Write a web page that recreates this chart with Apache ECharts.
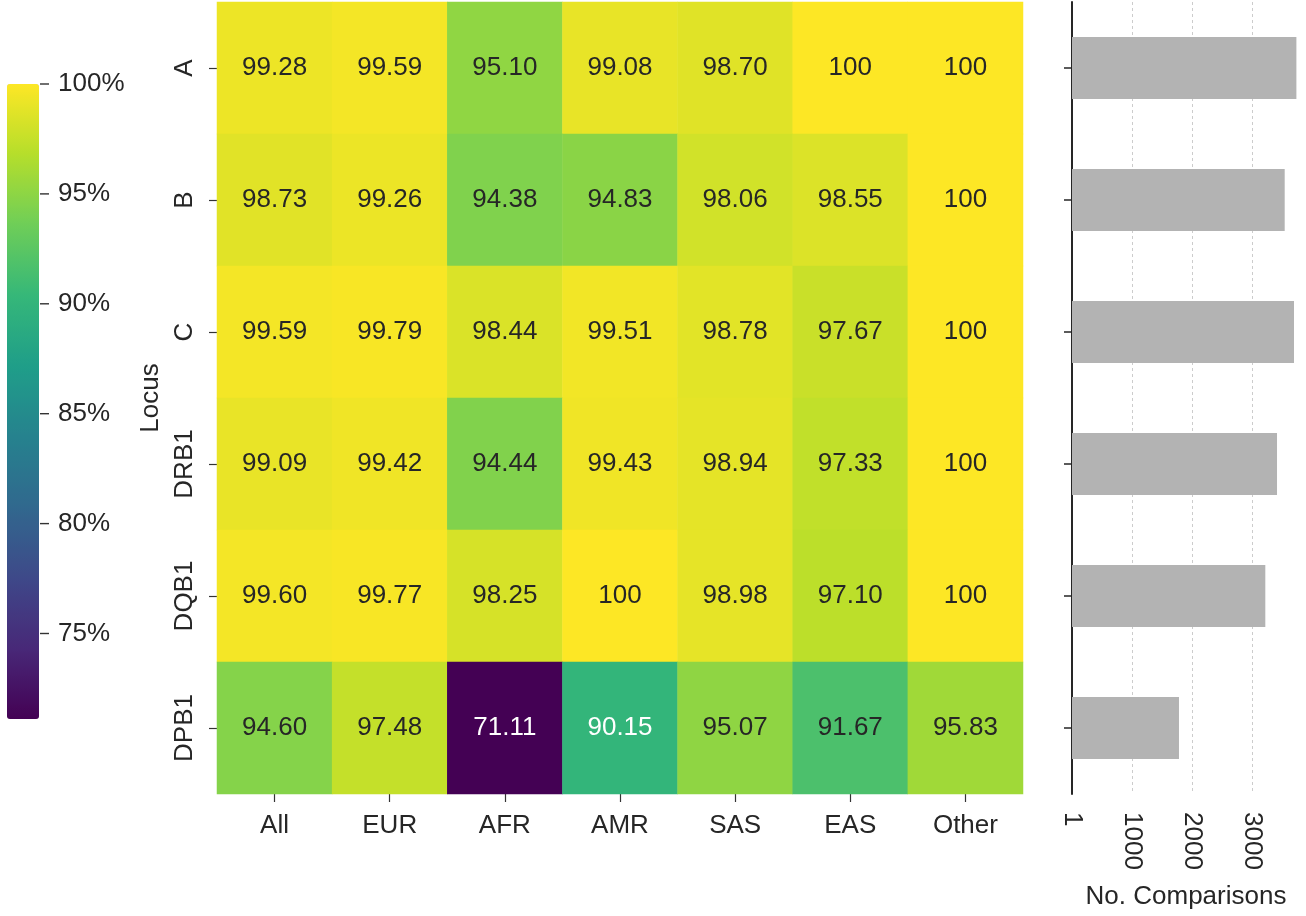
<!DOCTYPE html>
<html>
<head>
<meta charset="utf-8">
<title>Locus concordance by population</title>
<script src="https://cdn.jsdelivr.net/npm/echarts@6/dist/echarts.min.js"></script>
<style>
  html, body { margin: 0; padding: 0; background: #ffffff; }
  #chart { width: 1306px; height: 916px; }
</style>
</head>
<body>
<div id="chart"></div>
<script>
// Population groups (columns) and HLA loci (rows)
const populations = ['All', 'EUR', 'AFR', 'AMR', 'SAS', 'EAS', 'Other'];
const loci = ['A', 'B', 'C', 'DRB1', 'DQB1', 'DPB1'];

// Concordance (%) per locus, one array per row, in population order
const rowA    = [99.28, 99.59, 95.10, 99.08, 98.70, 100, 100];
const rowB    = [98.73, 99.26, 94.38, 94.83, 98.06, 98.55, 100];
const rowC    = [99.59, 99.79, 98.44, 99.51, 98.78, 97.67, 100];
const rowDRB1 = [99.09, 99.42, 94.44, 99.43, 98.94, 97.33, 100];
const rowDQB1 = [99.60, 99.77, 98.25, 100, 98.98, 97.10, 100];
const rowDPB1 = [94.60, 97.48, 71.11, 90.15, 95.07, 91.67, 95.83];

// Number of comparisons per locus
const comparisons = [3740, 3545, 3700, 3417, 3222, 1783];

// Tick labels
const colorbarTicks = [75, 80, 85, 90, 95, 100];
const comparisonTicks = [1, 1000, 2000, 3000];

const rows = [rowA, rowB, rowC, rowDRB1, rowDQB1, rowDPB1];
const heatData = [];
rows.forEach((row, yi) => row.forEach((v, xi) => heatData.push([xi, yi, v])));

const allValues = rows.flat();
const vMin = Math.min(...allValues);
const vMax = Math.max(...allValues);

const viridis = ['#440154', '#482878', '#3e4989', '#31688e', '#26828e',
                 '#1f9e89', '#35b779', '#6ece58', '#b5de2b', '#fde725'];

const FONT = "'Liberation Sans', Arial, Helvetica, sans-serif";
const TEXT = '#262626';

const chart = echarts.init(document.getElementById('chart'), null, { renderer: 'canvas' });

chart.setOption({
  backgroundColor: '#ffffff',
  animation: false,
  textStyle: { fontFamily: FONT, color: TEXT },
  grid: [
    { left: 217, top: 2, width: 806, height: 792 },   // heatmap
    { left: 1072, top: 2, width: 228, height: 792 },  // comparisons bars
    { left: 7, top: 84, width: 32, height: 635 }      // colour bar scale
  ],
  visualMap: {
    type: 'continuous',
    seriesIndex: 0,
    min: vMin,
    max: vMax,
    calculable: false,
    realtime: false,
    left: 7,
    top: 84,
    padding: 0,
    itemWidth: 32,
    itemHeight: 635,
    text: null,
    inRange: { color: viridis }
  },
  xAxis: [
    {
      gridIndex: 0,
      type: 'category',
      data: populations,
      axisLine: { show: false },
      axisTick: { show: true, alignWithLabel: true, length: 8, lineStyle: { color: '#333', width: 1.2 } },
      axisLabel: { color: TEXT, fontSize: 26, fontFamily: FONT, margin: 19 },
      splitLine: { show: false }
    },
    {
      gridIndex: 1,
      type: 'value',
      min: 0,
      max: 3800,
      interval: 1000,
      name: 'No. Comparisons',
      nameLocation: 'middle',
      nameGap: 90,
      nameTextStyle: { color: TEXT, fontSize: 26, fontFamily: FONT },
      axisLine: { show: false },
      axisTick: { show: false },
      axisLabel: {
        customValues: comparisonTicks,
        formatter: v => String(v),
        rotate: -90,
        color: TEXT, fontSize: 26, fontFamily: FONT, margin: 18
      },
      splitLine: {
        show: true,
        showMinLine: false,
        showMaxLine: false,
        lineStyle: { color: '#cccccc', type: [3, 3], width: 1 }
      }
    },
    {
      gridIndex: 2,
      type: 'value',
      min: 0,
      max: 1,
      show: false
    }
  ],
  yAxis: [
    {
      gridIndex: 0,
      type: 'category',
      data: loci,
      inverse: true,
      name: 'Locus',
      nameLocation: 'middle',
      nameGap: 51,
      nameRotate: 90,
      nameTextStyle: { color: TEXT, fontSize: 26, fontFamily: FONT },
      axisLine: { show: false },
      axisTick: { show: true, alignWithLabel: true, length: 8, lineStyle: { color: '#333', width: 1.2 } },
      axisLabel: { rotate: 90, color: TEXT, fontSize: 26, fontFamily: FONT, margin: 19 },
      splitLine: { show: false }
    },
    {
      gridIndex: 1,
      type: 'category',
      data: loci,
      inverse: true,
      axisLine: { show: true, lineStyle: { color: '#262626', width: 2 } },
      axisTick: { show: true, alignWithLabel: true, length: 8, lineStyle: { color: '#262626', width: 1.5 } },
      axisLabel: { show: false },
      splitLine: { show: false }
    },
    {
      gridIndex: 2,
      type: 'value',
      position: 'right',
      min: vMin,
      max: vMax,
      axisLine: { show: false },
      axisTick: { show: false },
      axisLabel: {
        customValues: colorbarTicks,
        // each label carries its own short tick mark in front of the text
        formatter: v => '{tick|}{gap|}' + v + '%',
        rich: {
          tick: { width: 9, height: 1.4, backgroundColor: '#333333', verticalAlign: 'middle' },
          gap: { width: 9, height: 1 }
        },
        color: TEXT, fontSize: 26, fontFamily: FONT, margin: 1
      },
      splitLine: { show: false }
    }
  ],
  series: [
    {
      name: 'Concordance',
      type: 'heatmap',
      xAxisIndex: 0,
      yAxisIndex: 0,
      data: heatData.map(d => ({
        value: d,
        // labels on dark cells are drawn in white for contrast
        label: { color: d[2] < 91 ? '#ffffff' : TEXT }
      })),
      label: {
        show: true,
        fontSize: 26,
        fontFamily: FONT,
        formatter: p => {
          const v = p.value[2];
          return v === 100 ? '100' : v.toFixed(2);
        }
      },
      itemStyle: { borderWidth: 0 },
      emphasis: { disabled: true }
    },
    {
      name: 'No. Comparisons',
      type: 'bar',
      xAxisIndex: 1,
      yAxisIndex: 1,
      data: comparisons,
      barWidth: '47%',
      itemStyle: { color: '#b3b3b3' },
      emphasis: { disabled: true }
    },
    {
      // carries the colour-bar scale so its axis gets laid out
      name: 'colorbar-scale',
      type: 'scatter',
      xAxisIndex: 2,
      yAxisIndex: 2,
      data: [],
      silent: true
    }
  ]
});
</script>
</body>
</html>
